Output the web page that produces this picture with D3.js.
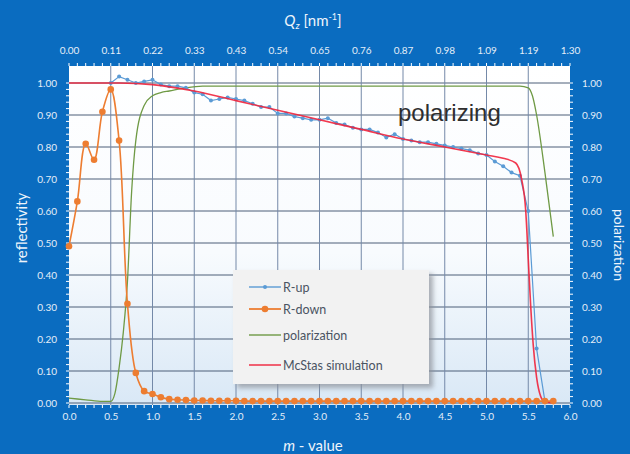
<!DOCTYPE html>
<html>
<head>
<meta charset="utf-8">
<script src="https://cdn.jsdelivr.net/npm/d3@7"></script>
<style>
  body { margin: 0; background: #0a6cc0; }
  svg { display: block; }
</style>
</head>
<body>
<svg id="chart" width="630" height="454"></svg>
<script>
// m - value steps of 0.1
const rDownM = d3.range(0, 59).map((i) => +(i * 0.1).toFixed(1));
const rDown = [0.49, 0.63, 0.81, 0.76, 0.91, 0.98, 0.82, 0.31, 0.094, 0.037,
  0.028, 0.018, 0.012, 0.010, 0.009, 0.008, 0.008, 0.007, 0.007, 0.007,
  0.007, 0.006, 0.006, 0.006, 0.006, 0.006, 0.006, 0.006, 0.006, 0.006,
  0.006, 0.006, 0.006, 0.006, 0.006, 0.006, 0.006, 0.006, 0.006, 0.006,
  0.006, 0.006, 0.006, 0.006, 0.006, 0.006, 0.006, 0.006, 0.006, 0.006,
  0.006, 0.006, 0.006, 0.006, 0.006, 0.006, 0.006, 0.006, 0.006];

const rUpM = d3.range(5, 59).map((i) => +(i * 0.1).toFixed(1));
const rUp = [1.00, 1.02, 1.01, 1.00, 1.005, 1.01, 0.995, 0.99, 0.99, 0.985,
  0.97, 0.965, 0.945, 0.95, 0.955, 0.95, 0.945, 0.935, 0.925, 0.925,
  0.905, 0.905, 0.895, 0.89, 0.885, 0.885, 0.89, 0.875, 0.87, 0.86,
  0.855, 0.855, 0.845, 0.83, 0.84, 0.825, 0.82, 0.815, 0.815, 0.81,
  0.805, 0.80, 0.795, 0.79, 0.78, 0.775, 0.755, 0.74, 0.72, 0.71,
  0.60, 0.17, 0.005, 0.004];

const polM = [0, 0.2, 0.4, 0.5, 0.55, 0.6, 0.65, 0.7, 0.75, 0.8, 0.9, 1.0, 1.1, 1.2, 1.4, 1.6, 2.0, 3.0, 4.0, 5.0, 5.4, 5.5, 5.55, 5.6, 5.7, 5.8];
const pol = [0.015, 0.01, 0.005, 0.005, 0.03, 0.11, 0.22, 0.38, 0.66, 0.82, 0.93, 0.96, 0.97, 0.975, 0.985, 0.99, 0.99, 0.99, 0.99, 0.99, 0.99, 0.985, 0.96, 0.90, 0.72, 0.52];

const simM = [0, 0.6, 1.0, 1.5, 2.0, 2.5, 3.0, 3.5, 4.0, 4.5, 5.0, 5.2, 5.35, 5.42, 5.47, 5.5, 5.53, 5.56, 5.6, 5.65, 5.7, 5.8];
const sim = [1.0, 1.0, 0.995, 0.975, 0.945, 0.915, 0.885, 0.855, 0.825, 0.80, 0.775, 0.765, 0.75, 0.70, 0.60, 0.45, 0.30, 0.18, 0.08, 0.02, 0.003, 0.0];

const xTicks = d3.range(0, 6.01, 0.5);
const qLabels = ['0.00', '0.11', '0.22', '0.33', '0.43', '0.54', '0.65', '0.76', '0.87', '0.98', '1.09', '1.19', '1.30'];
const yTicks = d3.range(0, 1.001, 0.1);

const legendNames = ['R-up', 'R-down', 'polarization', 'McStas simulation'];
const colors = { up: '#5b9bd5', down: '#ed7d31', pol: '#6f9a45', sim: '#f0233c' };

const svg = d3.select('#chart');
const x = d3.scaleLinear().domain([0, 6]).range([69, 570]);
const y = d3.scaleLinear().domain([0, 1]).range([403, 83]);
const plotTop = 66, plotBottom = 405;

// plot background gradient
const defs = svg.append('defs');
const grad = defs.append('linearGradient').attr('id', 'bg').attr('x1', 0).attr('x2', 0).attr('y1', 0).attr('y2', 1);
grad.append('stop').attr('offset', '0%').attr('stop-color', '#ffffff');
grad.append('stop').attr('offset', '55%').attr('stop-color', '#f8fbfe');
grad.append('stop').attr('offset', '100%').attr('stop-color', '#d9e8f6');
const blur = defs.append('filter').attr('id', 'shadow').attr('x', '-10%').attr('y', '-10%').attr('width', '130%').attr('height', '130%');
blur.append('feGaussianBlur').attr('stdDeviation', 2.5);

svg.append('rect')
  .attr('x', x(0)).attr('y', plotTop)
  .attr('width', x(6) - x(0)).attr('height', plotBottom - plotTop)
  .attr('fill', 'url(#bg)');

// grid
svg.append('g').selectAll('line').data(yTicks).join('line')
  .attr('x1', x(0)).attr('x2', x(6))
  .attr('y1', (d) => y(d)).attr('y2', (d) => y(d))
  .attr('stroke', '#4d5f78').attr('stroke-width', 1);
svg.append('g').selectAll('line').data(xTicks.slice(1, -1)).join('line')
  .attr('x1', (d) => x(d)).attr('x2', (d) => x(d))
  .attr('y1', plotTop).attr('y2', plotBottom)
  .attr('stroke', '#7489a8').attr('stroke-width', 1);

// axes (labels only, ticks drawn as white minor marks)
const tickColor = '#e4eef8';
const font = 'Lato, "Open Sans", sans-serif';

const bottomAxis = d3.axisBottom(x).tickValues(xTicks).tickFormat(d3.format('.1f')).tickSize(0).tickPadding(8);
const gB = svg.append('g').attr('transform', `translate(0,${plotBottom})`).call(bottomAxis);
const topAxis = d3.axisTop(x).tickValues(xTicks).tickFormat((d, i) => qLabels[i]).tickSize(0).tickPadding(12);
const gT = svg.append('g').attr('transform', `translate(0,${plotTop})`).call(topAxis);
const leftAxis = d3.axisLeft(y).tickValues(yTicks).tickFormat(d3.format('.2f')).tickSize(0).tickPadding(12);
const gL = svg.append('g').attr('transform', `translate(${x(0)},0)`).call(leftAxis);
const rightAxis = d3.axisRight(y).tickValues(yTicks).tickFormat(d3.format('.2f')).tickSize(0).tickPadding(12);
const gR = svg.append('g').attr('transform', `translate(${x(6)},0)`).call(rightAxis);
[gB, gT, gL, gR].forEach((g) => {
  g.select('.domain').remove();
  g.selectAll('text').attr('fill', tickColor).attr('font-family', font).attr('font-size', 10);
});

// white minor tick marks on the frame
const minorX = d3.range(0, 60.5, 1).map((i) => i / 10);
const minorY = d3.range(0, 50.5, 1).map((i) => i / 50);
const ticks = svg.append('g').attr('stroke', '#ffffff').attr('stroke-width', 1);
ticks.selectAll('.tb').data(minorX).join('line')
  .attr('x1', (d) => x(d)).attr('x2', (d) => x(d)).attr('y1', plotBottom).attr('y2', plotBottom + 3);
ticks.selectAll('.tt').data(minorX).join('line')
  .attr('x1', (d) => x(d)).attr('x2', (d) => x(d)).attr('y1', plotTop).attr('y2', plotTop - 3);
ticks.selectAll('.tl').data(minorY).join('line')
  .attr('x1', x(0)).attr('x2', x(0) - 3).attr('y1', (d) => y(d)).attr('y2', (d) => y(d));
ticks.selectAll('.tr').data(minorY).join('line')
  .attr('x1', x(6)).attr('x2', x(6) + 3).attr('y1', (d) => y(d)).attr('y2', (d) => y(d));

// series
const line = d3.line().x((d) => x(d[0])).y((d) => y(d[1]));

svg.append('path').datum(d3.zip(polM, pol))
  .attr('d', d3.line().x((d) => x(d[0])).y((d) => y(d[1])).curve(d3.curveMonotoneX))
  .attr('fill', 'none').attr('stroke', colors.pol).attr('stroke-width', 1.3);

const upData = d3.zip(rUpM, rUp);
svg.append('path').datum(upData)
  .attr('d', line)
  .attr('fill', 'none').attr('stroke', colors.up).attr('stroke-width', 1.2);
svg.append('g').selectAll('circle').data(upData).join('circle')
  .attr('cx', (d) => x(d[0])).attr('cy', (d) => y(d[1])).attr('r', 2)
  .attr('fill', colors.up);

svg.append('path').datum(d3.zip(simM, sim))
  .attr('d', d3.line().x((d) => x(d[0])).y((d) => y(d[1])).curve(d3.curveMonotoneX))
  .attr('fill', 'none').attr('stroke', colors.sim).attr('stroke-width', 1.6).attr('stroke-opacity', 0.9);

const downData = d3.zip(rDownM, rDown);
svg.append('path').datum(downData)
  .attr('d', d3.line().x((d) => x(d[0])).y((d) => y(d[1])).curve(d3.curveCatmullRom))
  .attr('fill', 'none').attr('stroke', colors.down).attr('stroke-width', 1.6);
svg.append('g').selectAll('circle').data(downData).join('circle')
  .attr('cx', (d) => x(d[0])).attr('cy', (d) => y(d[1])).attr('r', 3.3)
  .attr('fill', colors.down);

// annotation
svg.append('text').attr('x', 398).attr('y', 121)
  .attr('font-family', '"Liberation Sans", Arial, sans-serif').attr('font-size', 24)
  .attr('fill', '#2e2e2e').text('polarizing');

// legend
const lg = svg.append('g').attr('transform', 'translate(233,270)');
lg.append('rect').attr('x', 4).attr('y', 4).attr('width', 196).attr('height', 114)
  .attr('fill', '#8a8f96').attr('opacity', 0.7).attr('filter', 'url(#shadow)');
lg.append('rect').attr('width', 196).attr('height', 114).attr('fill', '#f2f2f2');
const legendKeys = ['up', 'down', 'pol', 'sim'];
const legendY = [17, 39, 65, 95];
legendNames.forEach((name, i) => {
  const k = legendKeys[i];
  const row = lg.append('g').attr('transform', `translate(0,${legendY[i]})`);
  row.append('line').attr('x1', 16).attr('x2', 48).attr('stroke', colors[k]).attr('stroke-width', k === 'down' ? 1.8 : 1.4);
  if (k === 'up') row.append('circle').attr('cx', 32).attr('r', 2).attr('fill', colors.up);
  if (k === 'down') row.append('circle').attr('cx', 32).attr('r', 3.3).attr('fill', colors.down);
  row.append('text').attr('x', 50).attr('y', 4.5)
    .attr('font-family', font).attr('font-size', 12.5).attr('fill', '#4a5462').text(name);
});

// axis titles
const title = svg.append('text').attr('x', 313).attr('y', 26).attr('text-anchor', 'middle')
  .attr('font-family', font).attr('font-size', 15).attr('fill', '#eef4fb');
title.append('tspan').attr('font-style', 'italic').text('Q');
title.append('tspan').attr('font-size', 10).attr('font-style', 'italic').attr('dy', 3).text('z');
title.append('tspan').attr('dy', -3).text(' [nm');
title.append('tspan').attr('font-size', 9).attr('dy', -6).text('-1');
title.append('tspan').attr('dy', 6).text(']');

const xt = svg.append('text').attr('x', 313).attr('y', 451).attr('text-anchor', 'middle')
  .attr('font-family', font).attr('font-size', 15).attr('fill', '#eef4fb');
xt.append('tspan').attr('font-style', 'italic').text('m');
xt.append('tspan').text(' - value');

svg.append('text').attr('transform', 'translate(27,228) rotate(-90)').attr('text-anchor', 'middle')
  .attr('font-family', font).attr('font-size', 15).attr('fill', '#eef4fb').text('reflectivity');
svg.append('text').attr('transform', 'translate(614,245) rotate(90)').attr('text-anchor', 'middle')
  .attr('font-family', font).attr('font-size', 14).attr('fill', '#eef4fb').text('polarization');
</script>
</body>
</html>
